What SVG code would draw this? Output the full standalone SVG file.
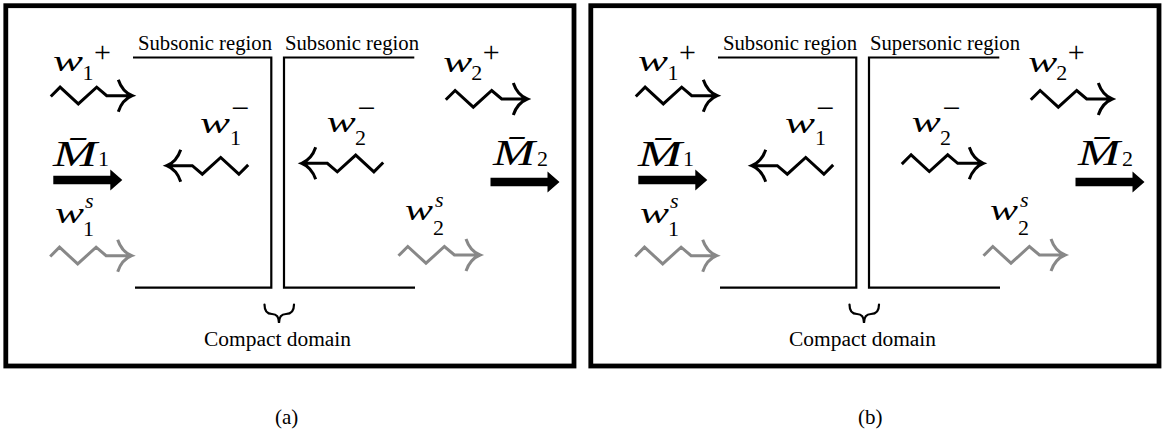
<svg xmlns="http://www.w3.org/2000/svg" xmlns:xlink="http://www.w3.org/1999/xlink" width="1167" height="439" viewBox="0 0 1167 439">
<style>
text{font-family:"Liberation Serif","Times New Roman",serif;font-weight:normal;fill:#000}
.frame{fill:none;stroke:#000;stroke-width:4.8}
.wall{fill:none;stroke:#000;stroke-width:2.2;stroke-linejoin:miter}
.brace{fill:none;stroke:#000;stroke-width:2.2;stroke-linecap:round}
.lbl{font-size:20px}
.w{font-style:italic;font-size:30px}
.sub{font-style:normal;font-size:22px}
.sup{font-style:normal;font-size:32px}
.plus{font-style:normal;font-size:30px}
.ssup{font-style:italic;font-size:22px}
.M{font-style:italic;font-size:36px}
.cap{font-size:21px}
.wave{fill:none;stroke-width:3;stroke-linejoin:miter;stroke-linecap:butt}
.blk{stroke:#000}
.gry{stroke:#888}
</style>
<defs>
<path id="wv" d="M-81.5,0.8 L-72.2,-8.5 L-54,8.2 L-35.6,-8.5 L-25.6,0 H0 M-14,-16 Q-10,-4 0,0 Q-10,4 -14,16"/>
<path id="fat" d="M0,-4.3 H57 V-10.5 L69,0 L57,10.5 V4.3 H0 Z"/>
</defs>

<g id="panel-a">
  <rect class="frame" x="5.8" y="5.7" width="568.2" height="360.3"/>
  <g id="walls-a">
    <path class="wall" d="M133,57.5 H271.3 V287.7 H135"/>
    <path class="wall" d="M414.3,57.5 H284 V287.7 H415"/>
    <path class="brace" d="M264.5,304.5 Q264.5,314 272,314 Q279,314 279,323 Q279,314 286,314 Q294,314 294,304.5"/>
  </g>
  <g id="region-labels-a">
    <text class="lbl" x="138" y="50" textLength="134" lengthAdjust="spacingAndGlyphs">Subsonic region</text>
    <text class="lbl" x="285" y="50" textLength="134" lengthAdjust="spacingAndGlyphs">Subsonic region</text>
    <text class="lbl" x="204" y="346" textLength="147" lengthAdjust="spacingAndGlyphs">Compact domain</text>
  </g>
  <g id="connectors-a">
    <use xlink:href="#wv" class="wave blk" transform="translate(132.3,95.7)"/>
    <use xlink:href="#wv" class="wave blk" transform="translate(166.7,165.7) rotate(180)"/>
    <use xlink:href="#wv" class="wave gry" transform="translate(131.7,255.7)"/>
    <use xlink:href="#wv" class="wave blk" transform="translate(301.7,163.3) rotate(180)"/>
    <use xlink:href="#wv" class="wave blk" transform="translate(527.3,99)"/>
    <use xlink:href="#wv" class="wave gry" transform="translate(480,255)"/>
    <use xlink:href="#fat" transform="translate(53.3,180)"/>
    <use xlink:href="#fat" transform="translate(490.5,182)"/>
  </g>
  <g id="w1p-a"><text><tspan class="w" x="53" y="71" textLength="30" lengthAdjust="spacingAndGlyphs">w</tspan><tspan class="sub" x="82.5" y="80">1</tspan><tspan class="plus" x="94" y="61.5">+</tspan></text></g>
  <g id="w1m-a"><text><tspan class="w" x="200" y="132.7" textLength="30" lengthAdjust="spacingAndGlyphs">w</tspan><tspan class="sub" x="230" y="145">1</tspan><tspan class="sup" x="231" y="118.5">−</tspan></text></g>
  <g id="w1s-a"><text><tspan class="w" x="55" y="223.3" textLength="29" lengthAdjust="spacingAndGlyphs">w</tspan><tspan class="sub" x="83" y="236">1</tspan><tspan class="ssup" x="85" y="208">s</tspan></text></g>
  <g id="w2m-a"><text><tspan class="w" x="326.7" y="131.7" textLength="29" lengthAdjust="spacingAndGlyphs">w</tspan><tspan class="sub" x="355" y="145">2</tspan><tspan class="sup" x="357.3" y="119">−</tspan></text></g>
  <g id="w2p-a"><text><tspan class="w" x="443.3" y="71.7" textLength="29" lengthAdjust="spacingAndGlyphs">w</tspan><tspan class="sub" x="471.2" y="80">2</tspan><tspan class="plus" x="482.8" y="61.5">+</tspan></text></g>
  <g id="w2s-a"><text><tspan class="w" x="405" y="220" textLength="28" lengthAdjust="spacingAndGlyphs">w</tspan><tspan class="sub" x="433" y="235">2</tspan><tspan class="ssup" x="435" y="206.7">s</tspan></text></g>
  <g id="M1-a"><text><tspan class="M" x="53" y="165.5" textLength="44" lengthAdjust="spacingAndGlyphs">M&#x304;</tspan><tspan class="sub" x="98" y="166">1</tspan></text></g>
  <g id="M2-a"><text><tspan class="M" x="493" y="165" textLength="42" lengthAdjust="spacingAndGlyphs">M&#x304;</tspan><tspan class="sub" x="537" y="165.5">2</tspan></text></g>
  <text id="cap-a" class="cap" x="275" y="423.5">(a)</text>
</g>

<g id="panel-b" transform="translate(585,0)">
  <rect class="frame" x="5.8" y="5.7" width="568.2" height="360.3"/>
  <g id="walls-b">
    <path class="wall" d="M133,57.5 H271.3 V287.7 H135"/>
    <path class="wall" d="M414.3,57.5 H284 V287.7 H415"/>
    <path class="brace" d="M264.5,304.5 Q264.5,314 272,314 Q279,314 279,323 Q279,314 286,314 Q294,314 294,304.5"/>
  </g>
  <g id="region-labels-b">
    <text class="lbl" x="138" y="50" textLength="134" lengthAdjust="spacingAndGlyphs">Subsonic region</text>
    <text class="lbl" x="285" y="50" textLength="150" lengthAdjust="spacingAndGlyphs">Supersonic region</text>
    <text class="lbl" x="204" y="346" textLength="147" lengthAdjust="spacingAndGlyphs">Compact domain</text>
  </g>
  <g id="connectors-b">
    <use xlink:href="#wv" class="wave blk" transform="translate(132.3,95.7)"/>
    <use xlink:href="#wv" class="wave blk" transform="translate(166.7,165.7) rotate(180)"/>
    <use xlink:href="#wv" class="wave gry" transform="translate(131.7,255.7)"/>
    <use xlink:href="#wv" class="wave blk" transform="translate(398.3,163.3)"/>
    <use xlink:href="#wv" class="wave blk" transform="translate(527.3,99)"/>
    <use xlink:href="#wv" class="wave gry" transform="translate(480,255)"/>
    <use xlink:href="#fat" transform="translate(53.3,180)"/>
    <use xlink:href="#fat" transform="translate(490.5,182)"/>
  </g>
  <g id="w1p-b"><text><tspan class="w" x="53" y="71" textLength="30" lengthAdjust="spacingAndGlyphs">w</tspan><tspan class="sub" x="82.5" y="80">1</tspan><tspan class="plus" x="94" y="61.5">+</tspan></text></g>
  <g id="w1m-b"><text><tspan class="w" x="200" y="132.7" textLength="30" lengthAdjust="spacingAndGlyphs">w</tspan><tspan class="sub" x="230" y="145">1</tspan><tspan class="sup" x="231" y="118.5">−</tspan></text></g>
  <g id="w1s-b"><text><tspan class="w" x="55" y="223.3" textLength="29" lengthAdjust="spacingAndGlyphs">w</tspan><tspan class="sub" x="83" y="236">1</tspan><tspan class="ssup" x="85" y="208">s</tspan></text></g>
  <g id="w2m-b"><text><tspan class="w" x="326.7" y="131.7" textLength="29" lengthAdjust="spacingAndGlyphs">w</tspan><tspan class="sub" x="355" y="145">2</tspan><tspan class="sup" x="357.3" y="119">−</tspan></text></g>
  <g id="w2p-b"><text><tspan class="w" x="443.3" y="71.7" textLength="29" lengthAdjust="spacingAndGlyphs">w</tspan><tspan class="sub" x="471.2" y="80">2</tspan><tspan class="plus" x="482.8" y="61.5">+</tspan></text></g>
  <g id="w2s-b"><text><tspan class="w" x="405" y="220" textLength="28" lengthAdjust="spacingAndGlyphs">w</tspan><tspan class="sub" x="433" y="235">2</tspan><tspan class="ssup" x="435" y="206.7">s</tspan></text></g>
  <g id="M1-b"><text><tspan class="M" x="53" y="165.5" textLength="44" lengthAdjust="spacingAndGlyphs">M&#x304;</tspan><tspan class="sub" x="98" y="166">1</tspan></text></g>
  <g id="M2-b"><text><tspan class="M" x="493" y="165" textLength="42" lengthAdjust="spacingAndGlyphs">M&#x304;</tspan><tspan class="sub" x="537" y="165.5">2</tspan></text></g>
  <text id="cap-b" class="cap" x="273" y="423.5">(b)</text>
</g>
</svg>
